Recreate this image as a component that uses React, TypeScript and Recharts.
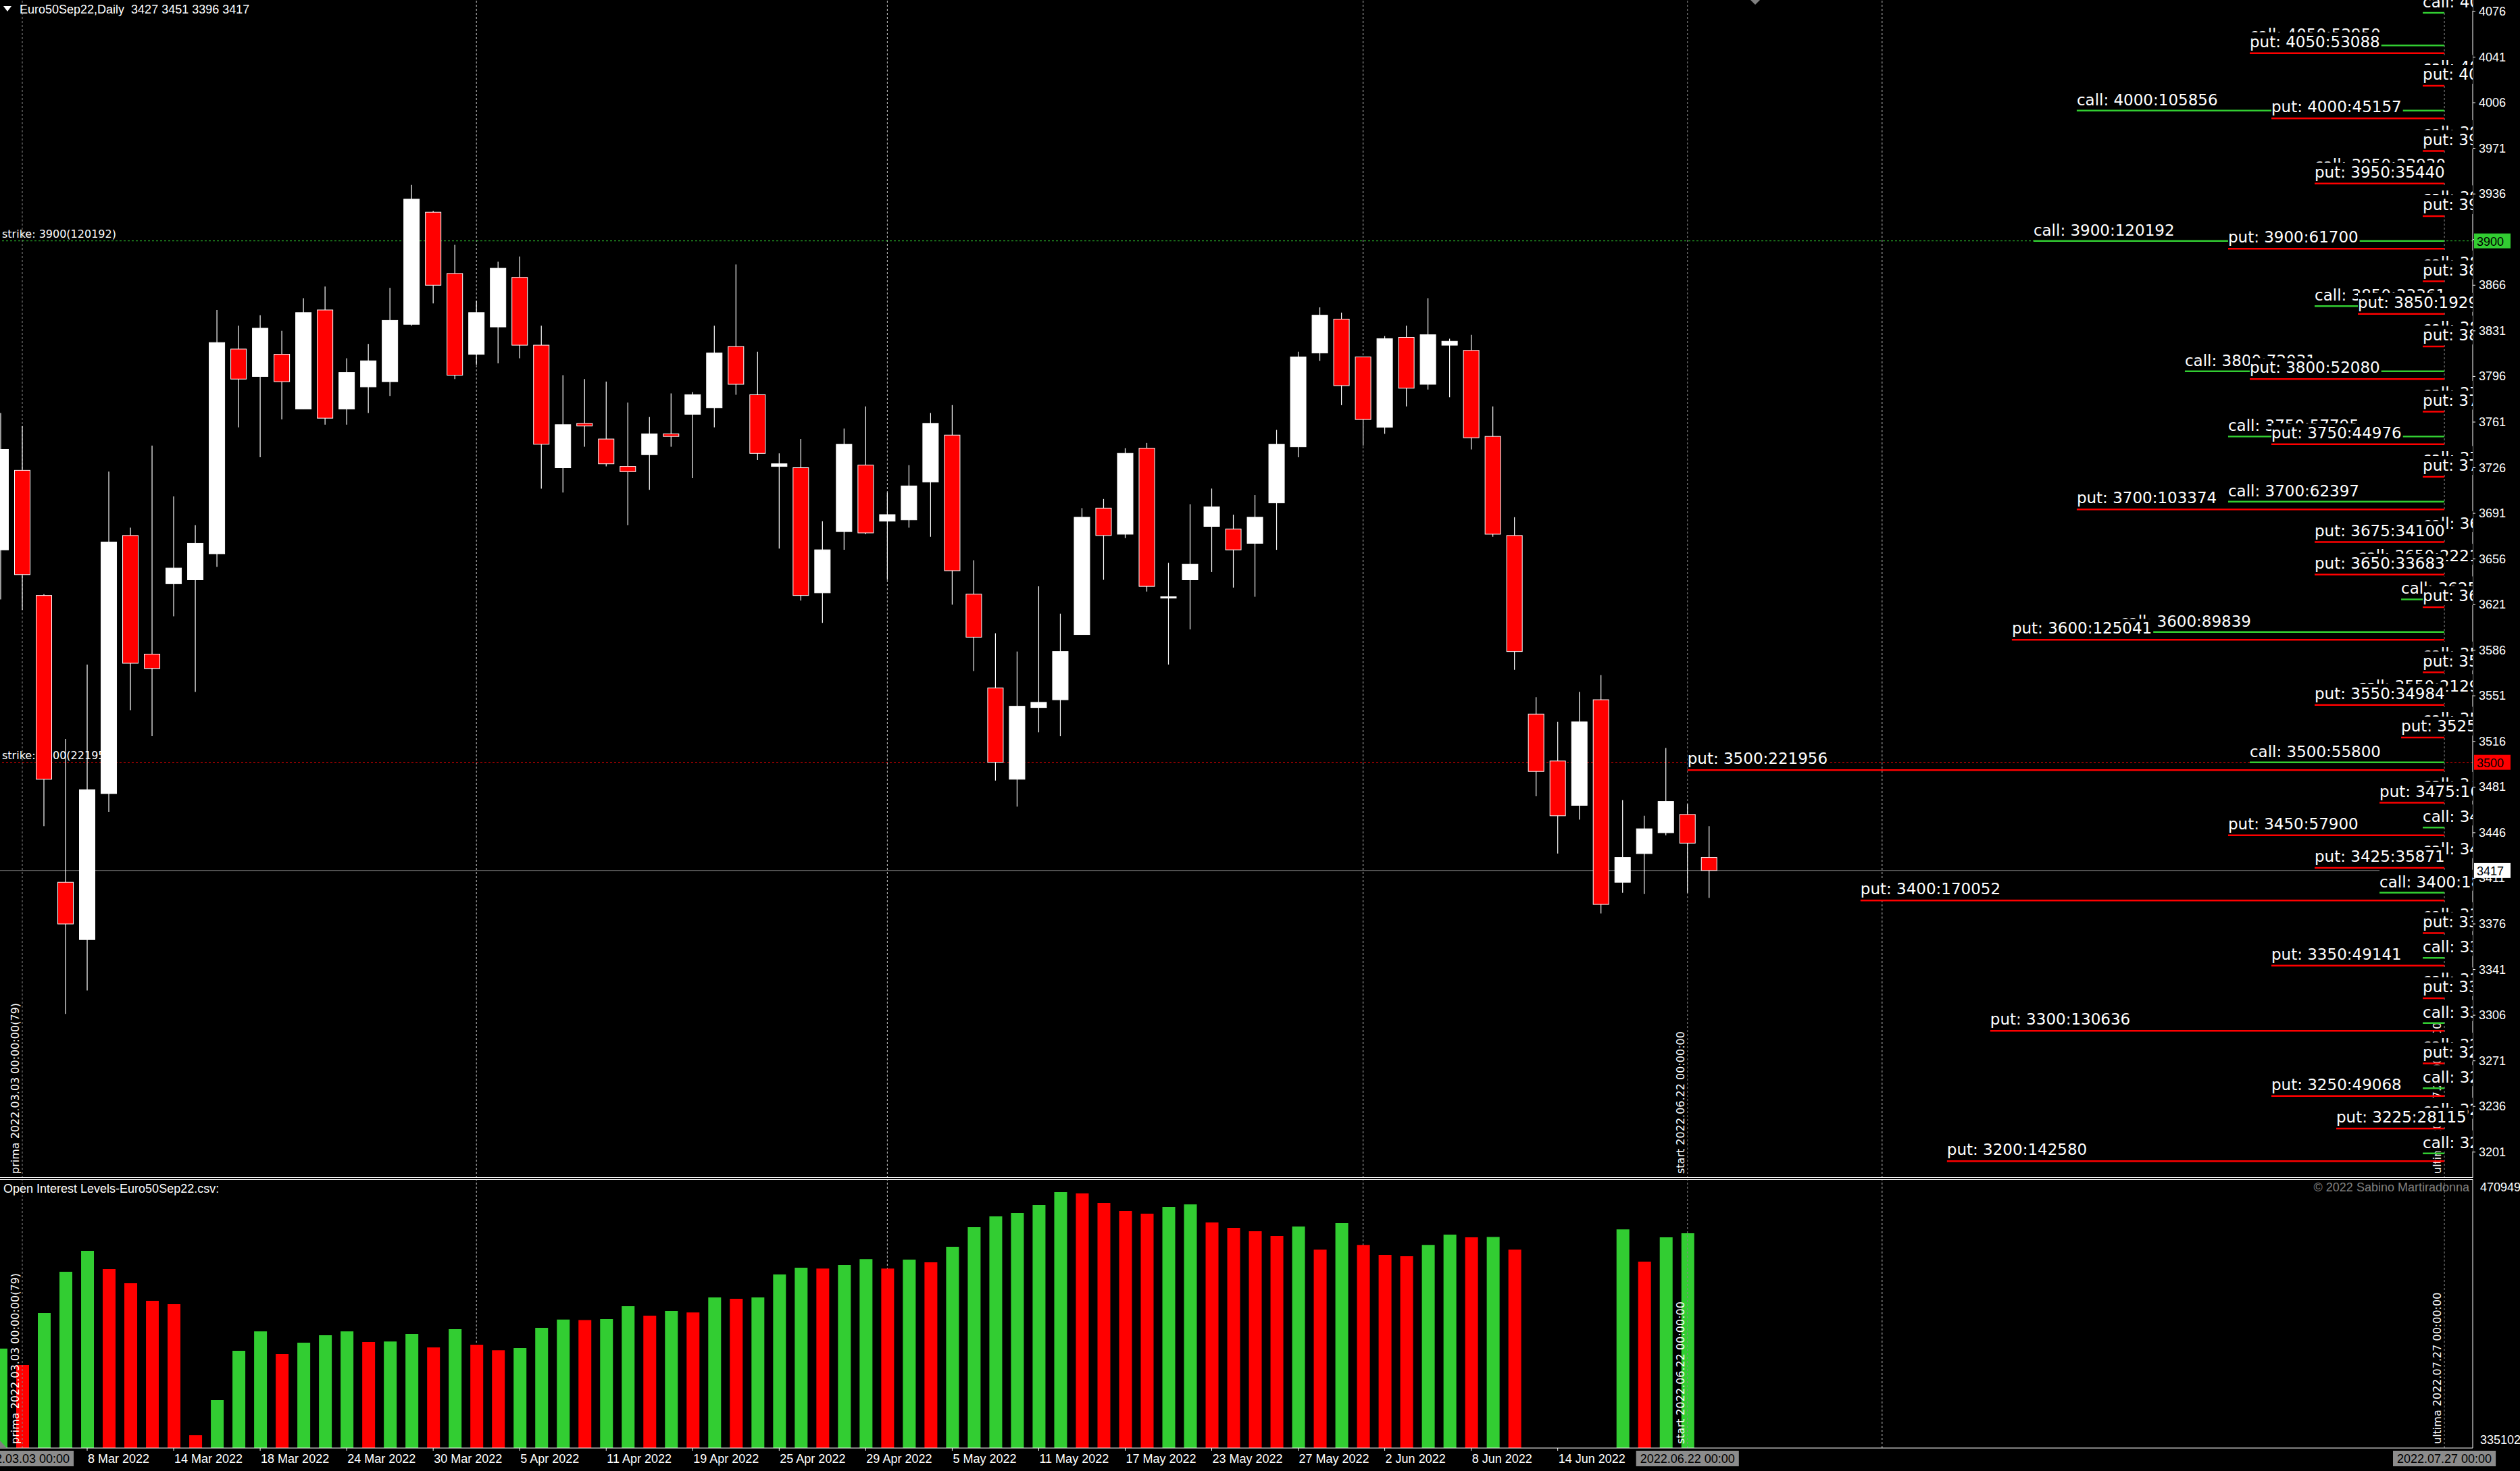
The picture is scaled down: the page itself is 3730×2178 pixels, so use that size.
import React from 'react';
import { ComposedChart, Bar, Scatter, XAxis, YAxis, ReferenceLine, Cell } from 'recharts';

const W = 3730;
const H = 2178;
const MAIN_H = 1744;
const VOL_H = 434;
const PLOT_RIGHT = 70;

const AX_FONT = '"Liberation Sans", Arial, sans-serif';
const LBL_FONT = '"DejaVu Sans", Verdana, sans-serif';

// daily bars, index 0 = 2 Mar 2022 ... index 79 = 23 Jun 2022
const opens = [3663, 3724, 3628, 3408, 3364, 3476, 3674, 3583, 3637, 3640,
  3660, 3817, 3796, 3813, 3771, 3847, 3771, 3788, 3792, 3836,
  3922, 3875, 3813, 3834, 3872, 3820, 3726, 3760, 3748, 3727,
  3736, 3752, 3767, 3772, 3819, 3782, 3727, 3726, 3630, 3677,
  3728, 3685, 3686, 3715, 3751, 3629, 3557, 3487, 3542, 3548,
  3598, 3695, 3675, 3741, 3626, 3640, 3681, 3679, 3668, 3699,
  3742, 3814, 3840, 3811, 3757, 3826, 3790, 3820, 3816, 3750,
  3674, 3537, 3501, 3467, 3548, 3408, 3430, 3446, 3460, 3427];
const highs = [3768, 3758, 3629, 3518, 3575, 3723, 3680, 3743, 3704, 3682,
  3847, 3835, 3843, 3831, 3856, 3865, 3810, 3821, 3864, 3943,
  3923, 3897, 3854, 3884, 3888, 3835, 3797, 3794, 3792, 3776,
  3765, 3783, 3784, 3835, 3882, 3815, 3737, 3748, 3685, 3756,
  3773, 3707, 3728, 3768, 3774, 3655, 3599, 3585, 3635, 3614,
  3695, 3702, 3741, 3745, 3653, 3698, 3710, 3690, 3705, 3755,
  3815, 3849, 3845, 3811, 3827, 3835, 3856, 3825, 3828, 3773,
  3688, 3550, 3531, 3554, 3567, 3471, 3459, 3511, 3468, 3451];
const lows = [3625, 3617, 3451, 3307, 3325, 3462, 3540, 3520, 3612, 3554,
  3650, 3757, 3734, 3763, 3771, 3759, 3759, 3768, 3781, 3835,
  3852, 3794, 3805, 3806, 3810, 3710, 3707, 3742, 3727, 3682,
  3709, 3742, 3718, 3757, 3782, 3732, 3664, 3624, 3607, 3663,
  3675, 3640, 3680, 3673, 3621, 3570, 3486, 3466, 3523, 3520,
  3598, 3640, 3672, 3631, 3575, 3602, 3646, 3634, 3627, 3663,
  3734, 3808, 3774, 3743, 3752, 3773, 3786, 3780, 3740, 3673,
  3571, 3474, 3430, 3456, 3384, 3400, 3399, 3444, 3400, 3396];
const closes = [3740, 3644, 3487, 3376, 3479, 3669, 3576, 3572, 3649, 3668,
  3822, 3794, 3833, 3792, 3845, 3764, 3799, 3808, 3839, 3932,
  3866, 3797, 3845, 3879, 3820, 3744, 3759, 3758, 3729, 3723,
  3752, 3750, 3782, 3814, 3790, 3737, 3729, 3628, 3663, 3744,
  3676, 3690, 3712, 3760, 3647, 3596, 3500, 3543, 3546, 3585,
  3688, 3674, 3737, 3635, 3627, 3652, 3696, 3663, 3688, 3744,
  3811, 3843, 3789, 3763, 3825, 3787, 3828, 3823, 3749, 3675,
  3585, 3493, 3459, 3531, 3391, 3427, 3449, 3470, 3438, 3417];

// total open interest per day (bottom window), no data 13-16 Jun
const openInterest = [3856000, 3773000, 4037000, 4246000, 4353000, 4260000, 4188000, 4099000, 4082000, 3416000,
  3595000, 3845000, 3944000, 3828000, 3886000, 3924000, 3944000, 3890000, 3892000, 3931000,
  3862000, 3955000, 3876000, 3848000, 3859000, 3962000, 4004000, 4001000, 4006000, 4071000,
  4023000, 4047000, 4040000, 4116000, 4109000, 4116000, 4233000, 4267000, 4263000, 4281000,
  4311000, 4263000, 4308000, 4294000, 4373000, 4473000, 4528000, 4545000, 4586000, 4651000,
  4644000, 4596000, 4555000, 4541000, 4576000, 4589000, 4497000, 4469000, 4452000, 4428000,
  4476000, 4359000, 4493000, 4383000, 4332000, 4325000, 4383000, 4435000, 4421000, 4423000,
  4359000, null, null, null, null, 4462000, 4298000, 4421000, 4442000];

const tickBars = [4, 8, 12, 16, 20, 24, 28, 32, 36, 40, 44, 48, 52, 56, 60, 64, 68, 72];
const tickLabels = ['8 Mar 2022', '14 Mar 2022', '18 Mar 2022', '24 Mar 2022', '30 Mar 2022', '5 Apr 2022',
  '11 Apr 2022', '19 Apr 2022', '25 Apr 2022', '29 Apr 2022', '5 May 2022', '11 May 2022', '17 May 2022',
  '23 May 2022', '27 May 2022', '2 Jun 2022', '8 Jun 2022', '14 Jun 2022'];
const priceTicks = [4076, 4041, 4006, 3971, 3936, 3901, 3866, 3831, 3796, 3761, 3726, 3691, 3656,
  3621, 3586, 3551, 3516, 3481, 3446, 3411, 3376, 3341, 3306, 3271, 3236, 3201];
const volTicks = [4709499, 3351020];

// option chain (Euro50 Sep22)
const strikes = [4075, 4050, 4025, 4000, 3975, 3950, 3925, 3900, 3875, 3850, 3825, 3800, 3775, 3750, 3725, 3700,
  3675, 3650, 3625, 3600, 3575, 3550, 3525, 3500, 3475, 3450, 3425, 3400, 3375, 3350, 3325, 3300, 3275, 3250, 3225, 3200];
const callOI = [5850, 52950, 4120, 105856, 3310, 33930, 2870, 120192, 4560, 33361, 3950, 72031, 2980, 57795, 3620, 62397,
  5210, 22214, 8740, 89839, 4030, 21290, 3880, 55800, 4410, 5120, 3260, 18260, 2750, 4890, 3150, 5640, 2460, 5320, 3710, 5930];
const putOI = [null, 53088, 5480, 45157, 4730, 35440, 5090, 61700, 4280, 19295, 5610, 52080, 4950, 44976, 5370, 103374,
  34100, 33683, 4870, 125041, 5260, 34984, 9870, 221956, 16412, 57900, 35871, 170052, 5730, 49141, 5480, 130636, 5150, 49068, 28115, 142580];

// time markers (bar index on the chart's time scale)
const monthStarts = [22, 41, 63, 87];
const markers = [
  { bar: 1, text: 'prima 2022.03.03 00:00:00(79)', date: '2022.03.03 00:00' },
  { bar: 78, text: 'start 2022.06.22 00:00:00', date: '2022.06.22 00:00' },
  { bar: 113, text: 'ultima 2022.07.27 00:00:00', date: '2022.07.27 00:00' },
];

const X_DOMAIN = [-0.031, 114.31];
const MAIN_DOMAIN = [3181.2, 4084.8];
const VOL_DOMAIN = [3351020, 4716359];
const PUT_SHIFT = 6;

const GREEN = '#32cd32';
const RED = '#ff0000';

const candles = opens.map((o, i) => ({
  i, open: o, high: highs[i], low: lows[i], close: closes[i], range: [lows[i], highs[i]],
}));

let prevOi = 0;
const volRows = openInterest.map((v, i) => {
  const up = v != null && v >= prevOi;
  if (v != null) prevOi = v;
  return { i, oi: v, up };
});

const startBar = markers[1].bar;
const lastBar = markers[2].bar;
const maxOI = Math.max(...callOI, ...(putOI.filter((v) => v != null) as number[]));
const barsFor = (oi: number) => Math.ceil((oi / maxOI) * (lastBar - startBar));

const callRows = strikes.map((k, j) => ({
  x: lastBar - barsFor(callOI[j]), y: k, kind: 'call', text: `call: ${k}:${callOI[j]}`,
}));
const putRows = strikes
  .map((k, j) => (putOI[j] == null ? null : {
    x: lastBar - barsFor(putOI[j] as number), y: k - PUT_SHIFT, kind: 'put', text: `put: ${k}:${putOI[j]}`,
  }))
  .filter(Boolean) as any[];
const labelRows = [...callRows, ...putRows];

const maxCallIdx = callOI.indexOf(Math.max(...callOI));
const maxPutIdx = putOI.indexOf(maxOI);
const lastClose = closes[closes.length - 1];

const priceBoxes = [
  { x: X_DOMAIN[1], y: strikes[maxCallIdx], bg: GREEN },
  { x: X_DOMAIN[1], y: strikes[maxPutIdx], bg: RED },
  { x: X_DOMAIN[1], y: lastClose, bg: '#ffffff' },
];

let measureCtx: CanvasRenderingContext2D | null = null;
function textWidth(s: string, font: string) {
  if (!measureCtx) measureCtx = document.createElement('canvas').getContext('2d');
  if (!measureCtx) return s.length * 12;
  measureCtx.font = font;
  return measureCtx.measureText(s).width;
}

function Candle(props: any) {
  const { x, y, width, height, payload } = props;
  if (payload == null || x == null || y == null) return null;
  const { open, close, high, low } = payload;
  const top = Math.min(y, y + height);
  const h = Math.abs(height);
  const ppu = high === low ? 0 : h / (high - low);
  const yOf = (v: number) => top + (high - v) * ppu;
  const cx = x + width / 2;
  const bull = close >= open;
  const bTop = yOf(Math.max(open, close));
  const bh = Math.max(yOf(Math.min(open, close)) - bTop, 2);
  return (
    <g>
      <line x1={cx} x2={cx} y1={top} y2={top + h} stroke="#fff" strokeWidth={1.2} />
      <rect x={x + 0.5} y={bTop} width={width - 1} height={bh} fill={bull ? '#fff' : RED} stroke="#fff" strokeWidth={1} />
    </g>
  );
}

function OptLabel(props: any) {
  const { cx, cy, payload } = props;
  if (cx == null || cy == null) return null;
  const call = payload.kind === 'call';
  const base = cy - (call ? 8 : 9);
  const w = textWidth(payload.text, `23px ${LBL_FONT}`);
  return (
    <g>
      <rect x={cx} y={base - (call ? 26 : 22)} width={w + 2} height={call ? 31 : 28} fill="#000" />
      <text x={cx} y={base} fill="#fff" fontSize={23} fontFamily={LBL_FONT}>{payload.text}</text>
    </g>
  );
}

function PriceBox(props: any) {
  const { cx, cy, payload } = props;
  if (cx == null || cy == null) return null;
  return (
    <g>
      <rect x={cx + 2} y={cy - 11} width={54} height={22} fill={payload.bg} />
      <text x={cx + 6} y={cy + 7} fill="#000" fontSize={18} fontFamily={AX_FONT}>{payload.y}</text>
    </g>
  );
}

const PriceTick = (p: any) => (
  <text x={p.x} y={p.y} dy={6} fill="#fff" fontSize={18} fontFamily={AX_FONT} textAnchor="start">
    {p.payload.value}
  </text>
);

const VolTick = (p: any) => (
  <text x={p.x} y={p.y + (p.payload.value > 4000000 ? 16 : -6)} fill="#fff" fontSize={18} fontFamily={AX_FONT} textAnchor="start">
    {p.payload.value}
  </text>
);

const DateTick = (p: any) => (
  <text x={p.x + 1} y={p.y + 16} fill="#fff" fontSize={18} fontFamily={AX_FONT}>
    {tickLabels[tickBars.indexOf(p.payload.value)]}
  </text>
);

const markerShape = (text: string) => (p: any) => {
  const bottom = Math.max(p.y1, p.y2);
  return (
    <g>
      <line x1={p.x1} y1={p.y1} x2={p.x2} y2={p.y2} stroke="#8a8a8a" strokeDasharray="3 3" strokeWidth={1} />
      <text transform={`translate(${p.x1 - 5},${bottom - 6}) rotate(-90)`} fill="#fff" fontSize={16} fontFamily={LBL_FONT}>
        {text}
      </text>
    </g>
  );
};

const strikeShape = (text: string, color: string) => (p: any) => (
  <g>
    <line x1={p.x1} y1={p.y1} x2={p.x2} y2={p.y2} stroke={color} strokeDasharray="3 3" strokeWidth={1} />
    <text x={Math.min(p.x1, p.x2) + 3} y={p.y1 - 5} fill="#fff" fontSize={16} fontFamily={LBL_FONT}>{text}</text>
  </g>
);

const dateBox = (text: string) => (props: any) => {
  const vb = props.viewBox;
  if (!vb) return null;
  const w = textWidth(text, `18px ${AX_FONT}`) + 12;
  const y = vb.y + vb.height + 4;
  return (
    <g>
      <rect x={vb.x - w / 2} y={y} width={w} height={23} fill="#8c8c8c" />
      <text x={vb.x} y={y + 18} textAnchor="middle" fill="#000" fontSize={18} fontFamily={AX_FONT}>{text}</text>
    </g>
  );
};

export default function App() {
  return (
    <div style={{ position: 'absolute', left: 0, top: 0, width: W, height: H, background: '#000', overflow: 'hidden' }}>
      <div style={{ position: 'absolute', left: 0, top: 0 }}>
        <ComposedChart width={W} height={MAIN_H} data={candles} margin={{ top: 0, right: 0, bottom: 0, left: 0 }}>
          <XAxis dataKey="i" type="number" domain={X_DOMAIN} allowDataOverflow hide />
          <XAxis xAxisId="lbl" dataKey="x" type="number" domain={X_DOMAIN} allowDataOverflow hide />
          <XAxis xAxisId="edge" dataKey="x" type="number" domain={X_DOMAIN} hide />
          <YAxis
            orientation="right"
            type="number"
            domain={MAIN_DOMAIN}
            allowDataOverflow
            ticks={priceTicks}
            interval={0}
            width={PLOT_RIGHT}
            tick={<PriceTick />}
            tickSize={4}
            tickMargin={5}
            tickLine={{ stroke: '#fff' }}
            axisLine={{ stroke: '#fff' }}
          />
          <YAxis yAxisId="edge" type="number" domain={MAIN_DOMAIN} hide />
          {monthStarts.map((m) => (
            <ReferenceLine key={`m${m}`} xAxisId="lbl" x={m} stroke="#c8c8c8" strokeDasharray="3 3" zIndex={10} />
          ))}
          {markers.map((m) => (
            <ReferenceLine key={`k${m.bar}`} xAxisId="lbl" x={m.bar} shape={markerShape(m.text)} zIndex={10} />
          ))}
          <ReferenceLine xAxisId="lbl" y={strikes[maxCallIdx]} zIndex={20}
            shape={strikeShape(`strike: ${strikes[maxCallIdx]}(${callOI[maxCallIdx]})`, GREEN)} />
          <ReferenceLine xAxisId="lbl" y={strikes[maxPutIdx]} zIndex={20}
            shape={strikeShape(`strike: ${strikes[maxPutIdx]}(${putOI[maxPutIdx]})`, RED)} />
          <ReferenceLine xAxisId="lbl" y={lastClose} stroke="#9a9a9a" strokeWidth={1} zIndex={20} />
          {labelRows.map((r, j) => (
            <ReferenceLine
              key={`o${j}`}
              xAxisId="lbl"
              segment={[{ x: r.x, y: r.y }, { x: lastBar, y: r.y }]}
              stroke={r.kind === 'call' ? GREEN : RED}
              strokeWidth={2.5}
              zIndex={30}
            />
          ))}
          <Bar dataKey="range" barSize={24} shape={Candle} isAnimationActive={false} />
          <Scatter xAxisId="lbl" data={labelRows} dataKey="y" shape={OptLabel} isAnimationActive={false} zIndex={600} />
          <Scatter xAxisId="edge" yAxisId="edge" data={priceBoxes} dataKey="y" shape={PriceBox}
            isAnimationActive={false} zIndex={2500} />
        </ComposedChart>
      </div>

      <div style={{ position: 'absolute', left: 0, top: MAIN_H }}>
        <ComposedChart width={W} height={VOL_H} data={volRows} margin={{ top: 2, right: 0, bottom: 0, left: 0 }}>
          <XAxis
            dataKey="i"
            type="number"
            domain={X_DOMAIN}
            allowDataOverflow
            ticks={tickBars}
            interval={0}
            height={34}
            tick={<DateTick />}
            tickSize={4}
            tickMargin={2}
            tickLine={{ stroke: '#fff' }}
            axisLine={{ stroke: '#fff' }}
          />
          <YAxis
            orientation="right"
            type="number"
            domain={VOL_DOMAIN}
            allowDataOverflow
            ticks={volTicks}
            interval={0}
            width={PLOT_RIGHT}
            tick={<VolTick />}
            tickLine={false}
            tickMargin={5}
            axisLine={{ stroke: '#fff' }}
          />
          {monthStarts.map((m) => (
            <ReferenceLine key={`vm${m}`} x={m} stroke="#c8c8c8" strokeDasharray="3 3" zIndex={10} />
          ))}
          <Bar dataKey="oi" barSize={19} isAnimationActive={false}>
            {volRows.map((r) => (
              <Cell key={`c${r.i}`} fill={r.up ? GREEN : RED} />
            ))}
          </Bar>
          {markers.map((m) => (
            <ReferenceLine key={`vk${m.bar}`} x={m.bar} shape={markerShape(m.text)} zIndex={400} />
          ))}
          {markers.map((m) => (
            <ReferenceLine key={`vd${m.bar}`} x={m.bar} stroke="none" zIndex={1500} label={dateBox(m.date)} />
          ))}
        </ComposedChart>
      </div>

      <svg width={W} height={H} style={{ position: 'absolute', left: 0, top: 0, pointerEvents: 'none' }}>
        <polygon points="5,9 17,9 11,17" fill="#fff" />
        <text x={29} y={20} fill="#fff" fontSize={18} fontFamily={AX_FONT} style={{ whiteSpace: 'pre' }}>
          {`Euro50Sep22,Daily  ${opens[79]} ${highs[79]} ${lows[79]} ${closes[79]}`}
        </text>
        <polygon points="2591,0 2605,0 2598,7" fill="#808080" />
        <line x1={0} y1={1743.5} x2={W - PLOT_RIGHT} y2={1743.5} stroke="#fff" strokeWidth={1} />
        <line x1={0} y1={1746.5} x2={W - PLOT_RIGHT} y2={1746.5} stroke="#fff" strokeWidth={1} />
        <text x={5} y={1766} fill="#fff" fontSize={18} fontFamily={AX_FONT}>Open Interest Levels-Euro50Sep22.csv:</text>
        <text x={3655} y={1764} fill="#808080" fontSize={18} fontFamily={AX_FONT} textAnchor="end">© 2022 Sabino Martiradonna</text>
        <polygon points="0,2133 0,2144 10,2144" fill="#808080" />
      </svg>
    </div>
  );
}
